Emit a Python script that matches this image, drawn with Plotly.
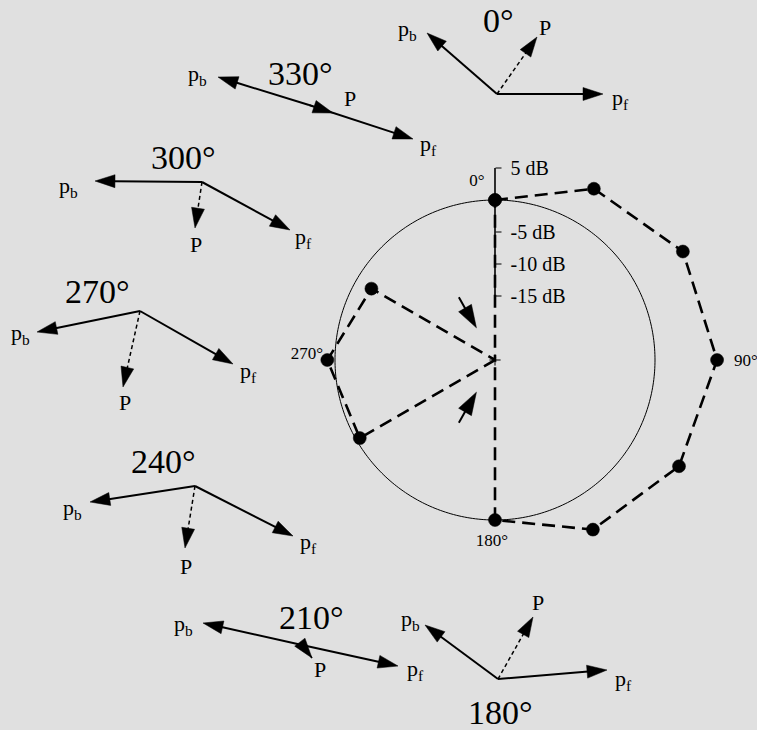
import numpy as np
import plotly.graph_objects as go

W, H = 757, 730
BG = "#e0e0e0"
INK = "black"
SERIF = "Liberation Serif, Times New Roman, serif"

# ---- polar pattern: level relative to 0 dB against bearing (clockwise from 0°)
bearing_deg = [0, 30, 60, 90, 120, 150, 180, 210, 240, 270, 300, 330, 0]
level_db = [0.0, 5.9, 8.9, 9.7, 8.2, 5.6, 0.0, -25.0, -0.6, 1.2, -2.7, -25.0, 0.0]
R_MIN, R_MAX = -25.0, 15.0
NULL_DB = -25.0

radial_tick_vals = [5, -5, -10, -15]
radial_tick_text = ["\u00a05 dB", "\u00a0-5 dB", "\u00a0-10 dB", "\u00a0-15 dB"]

compass_text = ["0°", "90°", "180°", "270°"]
compass_r = [2.95, 14.2, 3.4, 4.4]
compass_theta = [354.2, 90.5, 181.0, 271.5]

# arrows pointing at the two nulls
null_arrow_theta = [330, 210]
null_arrow_r = [(-13.7, -19.2), (-13.7, -19.2)]

# ---- phasor sketches: p_f, p_b and resultant P (x right, y up, in px)
phasor_title = ["0°", "330°", "300°", "270°", "240°", "210°", "180°"]
origin_px = [(497, 94), (309, 105), (202, 182), (140, 311), (195, 486), (302, 645), (498, 679)]
pf_vec = [(106, 0), (104, -34), (88, -48), (93, -53), (98, -50), (96, -21), (109, 9)]
pb_vec = [(-70, 61), (-91, 28), (-107, 1), (-103, -21), (-105, -16), (-99, 22), (-73, 54)]
P_vec = [(40, 57), (24, -8), (-7, -46), (-17, -76), (-10, -62), (10, -13), (35, 62)]

# label placements for each sketch (centre x, centre y in px from top-left)
title_pos = [(498, 20), (300, 73), (183, 157), (97, 291), (163, 461), (311, 617), (500, 712)]
pb_label_pos = [(407, 30), (197, 75), (68, 187), (20, 334), (72, 509), (183, 625), (410, 620)]
pf_label_pos = [(620, 99), (428, 145), (303, 238), (248, 372), (308, 543), (415, 670), (623, 680)]
P_label_pos = [(545, 27), (350, 98), (196, 244), (125, 402), (186, 566), (320, 669), (538, 602)]

# ---- polar placement
CENTER = (495.0, 360.0)
PX_PER_DB = 6.4
rad_px = (R_MAX - R_MIN) * PX_PER_DB
dom_x = [(CENTER[0] - rad_px) / W, (CENTER[0] + rad_px) / W]
dom_y = [(H - CENTER[1] - rad_px) / H, (H - CENTER[1] + rad_px) / H]

fig = go.Figure()

# 0 dB reference circle
ring_theta = np.linspace(0, 360, 361)
fig.add_trace(go.Scatterpolar(r=np.zeros_like(ring_theta), theta=ring_theta, mode="lines",
                              line=dict(color=INK, width=1), hoverinfo="skip"))

# radial scale line
fig.add_trace(go.Scatterpolar(r=[-15.8, 5], theta=[0, 0], mode="lines",
                              line=dict(color=INK, width=1.6), hoverinfo="skip"))

# measured pattern
marker_sizes = [0 if v <= NULL_DB else 13 for v in level_db]
fig.add_trace(go.Scatterpolar(r=level_db, theta=bearing_deg, mode="lines+markers",
                              line=dict(color=INK, width=2.6, dash="13px,7px"),
                              marker=dict(color=INK, size=marker_sizes, opacity=1,
                                          line=dict(color=INK, width=0.5)),
                              cliponaxis=False))

# centre mark
fig.add_trace(go.Scatterpolar(r=[R_MIN], theta=[0], mode="markers",
                              marker=dict(symbol="cross-thin", size=8,
                                          line=dict(color=INK, width=1))))

# null indicators
for th, (r0, r1) in zip(null_arrow_theta, null_arrow_r):
    fig.add_trace(go.Scatterpolar(r=[r0, r1], theta=[th, th], mode="lines+markers",
                                  line=dict(color=INK, width=2),
                                  marker=dict(symbol=["circle", "arrow"], size=[0, 24],
                                              angleref="previous", color=INK, opacity=1,
                                              line=dict(color=INK, width=0.5))))

# compass labels
fig.add_trace(go.Scatterpolar(r=compass_r, theta=compass_theta, mode="text",
                              text=compass_text, cliponaxis=False,
                              textfont=dict(family=SERIF, size=17, color=INK)))


def vector_trace(x0, y0, dx, dy, dashed):
    x1, y1 = x0 + dx, y0 - dy
    return go.Scatter(x=[x0, x1], y=[y0, y1], mode="lines+markers",
                      line=dict(color=INK, width=1.5 if dashed else 2,
                                dash="4px,3px" if dashed else "solid"),
                      marker=dict(symbol=["circle", "arrow"], size=[0, 21],
                                  angleref="previous", color=INK, opacity=1,
                                  line=dict(color=INK, width=0.5)),
                      xaxis="x", yaxis="y", hoverinfo="skip")


annotations = []
for i, (ox, oy) in enumerate(origin_px):
    fig.add_trace(vector_trace(ox, oy, *pf_vec[i], dashed=False))
    fig.add_trace(vector_trace(ox, oy, *pb_vec[i], dashed=False))
    fig.add_trace(vector_trace(ox, oy, *P_vec[i], dashed=True))
    for (tx, ty), txt, size in [(title_pos[i], phasor_title[i], 34),
                                (pb_label_pos[i], "p<sub>b</sub>", 22),
                                (pf_label_pos[i], "p<sub>f</sub>", 22),
                                (P_label_pos[i], "P", 22)]:
        annotations.append(dict(x=tx, y=ty, xref="x", yref="y", text=txt, showarrow=False,
                                xanchor="center", yanchor="middle",
                                font=dict(family=SERIF, size=size, color=INK)))

fig.update_layout(
    width=W, height=H,
    margin=dict(l=0, r=0, t=0, b=0),
    paper_bgcolor=BG, plot_bgcolor="rgba(0,0,0,0)",
    showlegend=False,
    xaxis=dict(range=[0, W], domain=[0, 1], visible=False, fixedrange=True),
    yaxis=dict(range=[H, 0], domain=[0, 1], visible=False, fixedrange=True),
    polar=dict(
        domain=dict(x=dom_x, y=dom_y),
        bgcolor="rgba(0,0,0,0)",
        radialaxis=dict(range=[R_MIN, R_MAX], angle=90, tickangle=90,
                        tickvals=radial_tick_vals, ticktext=radial_tick_text,
                        ticks="outside", ticklen=6, tickwidth=1.2, tickcolor=INK,
                        showline=False, showgrid=False, side="clockwise",
                        tickfont=dict(family=SERIF, size=20, color=INK)),
        angularaxis=dict(rotation=90, direction="clockwise", showline=False,
                         showgrid=False, ticks="", showticklabels=False),
    ),
    annotations=annotations,
)

fig.write_html("out.html")
